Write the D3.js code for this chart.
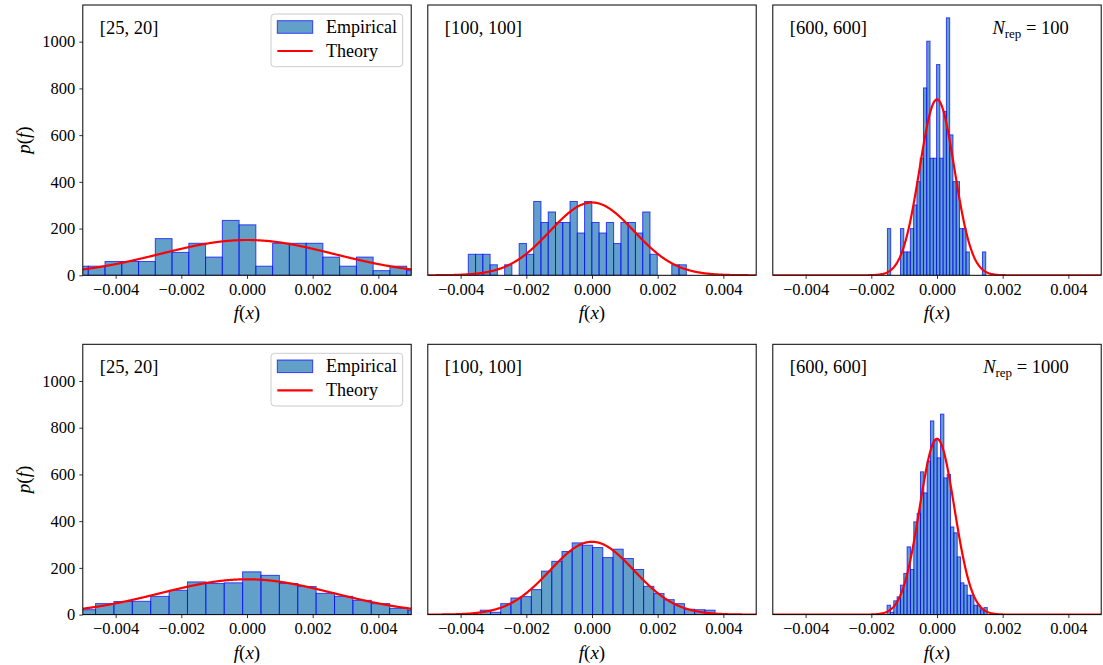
<!DOCTYPE html>
<html>
<head>
<meta charset="utf-8">
<script src="https://cdn.jsdelivr.net/npm/d3@7"></script>
<style>
  html, body { margin: 0; padding: 0; background: #fff; }
  svg { display: block; font-family: "Liberation Serif", "DejaVu Serif", serif; }
</style>
</head>
<body>
<svg id="fig" width="1103" height="665"></svg>
<script>
// ---- data -------------------------------------------------------------
const shapeLabels = ["[25, 20]", "[100, 100]", "[600, 600]"];
const repCounts = [100, 1000];
const xTicks = [-0.004, -0.002, 0.000, 0.002, 0.004];
const yTicks = [0, 200, 400, 600, 800, 1000];
const xDomain = [-0.005, 0.005];
const yDomain = [0, 1157];

// theoretical Gaussian density of f(x) for each network shape (mean, std)
const theoryMean = [0, 0, 0];
const theoryStd = [0.00264, 0.00128, 0.00053];

// histogram bins: first edge and bin width, per row (N_rep) and shape
const binStart = [
  [-5.344e-3, -3.767e-3, -1.510e-3],
  [-5.171e-3, -3.401e-3, -1.520e-3]
];
const binWidth = [
  [0.5103e-3, 0.2213e-3, 0.0998e-3],
  [0.5597e-3, 0.3108e-3, 0.1017e-3]
];

// empirical densities, N_rep = 100
const dens100_s25 = [39, 39, 59, 59, 59, 157, 98, 137, 78, 235, 216, 39, 137, 137, 137, 78, 39, 78, 20, 39, 20];
const dens100_s100 = [90, 90, 90, 45, 0, 45, 0, 136, 90, 316, 226, 271, 226, 226, 316, 181, 316, 226, 181, 226,
                      136, 226, 226, 181, 271, 90, 0, 0, 45, 45];
const dens100_s600 = [200, 0, 0, 0, 200, 100, 100, 200, 301, 401, 501, 802, 1002, 501, 501, 902, 501, 701, 1102, 601,
                      401, 401, 200, 200, 100, 0, 0, 0, 0, 100];

// empirical densities, N_rep = 1000
const dens1000_s25 = [21, 47, 56, 57, 78, 104, 140, 133, 136, 183, 168, 133, 120, 91, 78, 61, 47, 27, 19];
const dens1000_s100 = [19, 10, 47, 71, 77, 107, 186, 228, 270, 307, 297, 287, 244, 280, 240, 193, 121, 90, 64, 47,
                       23, 21, 19];
const dens1000_s600 = [40, 10, 59, 76, 126, 176, 290, 193, 397, 433, 611, 521, 657, 829, 747, 671, 858, 585, 600, 375,
                       350, 247, 136, 126, 83, 83, 40, 40, 20, 30];

const densities = [
  [dens100_s25, dens100_s100, dens100_s600],
  [dens1000_s25, dens1000_s100, dens1000_s600]
];

// ---- layout -----------------------------------------------------------
const axLeft = [82.8, 427.8, 772.8];
const axTop = [5, 344.3];
const axW = 328.4, axH = 270.3;

const histFill = "#1f77b4", histEdge = "#0000ff", histAlpha = 0.7;
const fmtTick = d3.format(".3f");

const svg = d3.select("#fig");
const defs = svg.append("defs");

function gaussian(x, mu, sd) {
  return Math.exp(-0.5 * ((x - mu) / sd) ** 2) / (sd * Math.sqrt(2 * Math.PI));
}

function mathFx(sel) {
  sel.append("tspan").attr("font-style", "italic").text("f");
  sel.append("tspan").text("(");
  sel.append("tspan").attr("font-style", "italic").text("x");
  sel.append("tspan").text(")");
}

repCounts.forEach((nrep, r) => {
  shapeLabels.forEach((label, c) => {
    const x0 = axLeft[c], y0 = axTop[r];
    const x = d3.scaleLinear().domain(xDomain).range([x0, x0 + axW]);
    const y = d3.scaleLinear().domain(yDomain).range([y0 + axH, y0]);

    const clipId = `clip-${r}-${c}`;
    defs.append("clipPath").attr("id", clipId)
      .append("rect").attr("x", x0).attr("y", y0).attr("width", axW).attr("height", axH);

    const g = svg.append("g");
    const plot = g.append("g").attr("clip-path", `url(#${clipId})`);

    // histogram bars
    const start = binStart[r][c], bw = binWidth[r][c];
    const bins = densities[r][c].map((v, i) => ({ lo: start + i * bw, hi: start + (i + 1) * bw, v }));
    plot.selectAll("rect.bar")
      .data(bins.filter(d => d.v > 0))
      .join("rect")
      .attr("class", "bar")
      .attr("x", d => x(d.lo))
      .attr("width", d => x(d.hi) - x(d.lo))
      .attr("y", d => y(d.v))
      .attr("height", d => y(0) - y(d.v))
      .attr("fill", histFill).attr("fill-opacity", histAlpha)
      .attr("stroke", histEdge).attr("stroke-opacity", histAlpha)
      .attr("stroke-width", 1);

    // theory curve
    const xs = d3.range(0, 501).map(i => xDomain[0] + (xDomain[1] - xDomain[0]) * i / 500);
    const line = d3.line().x(d => x(d)).y(d => y(gaussian(d, theoryMean[c], theoryStd[c])));
    plot.append("path").datum(xs)
      .attr("d", line)
      .attr("fill", "none").attr("stroke", "#ff0000").attr("stroke-width", 2.2)
      .attr("stroke-linejoin", "round");

    // x axis
    const xAxis = d3.axisBottom(x).tickValues(xTicks).tickFormat(fmtTick).tickSize(3.5).tickPadding(4);
    const gx = g.append("g").attr("transform", `translate(0,${y0 + axH})`).call(xAxis);
    gx.select(".domain").remove();
    gx.selectAll(".tick line").attr("stroke", "#000").attr("stroke-width", 0.8);
    gx.selectAll(".tick text").attr("font-size", 16.5).attr("fill", "#000")
      .attr("font-family", "Liberation Serif, serif");

    // y axis on the first column only
    if (c === 0) {
      const yAxis = d3.axisLeft(y).tickValues(yTicks).tickFormat(d3.format("d")).tickSize(3.5).tickPadding(4);
      const gy = g.append("g").attr("transform", `translate(${x0},0)`).call(yAxis);
      gy.select(".domain").remove();
      gy.selectAll(".tick line").attr("stroke", "#000").attr("stroke-width", 0.8);
      gy.selectAll(".tick text").attr("font-size", 16.5).attr("fill", "#000")
        .attr("font-family", "Liberation Serif, serif");

      const yl = g.append("text")
        .attr("transform", `translate(${x0 - 60},${y0 + axH / 2}) rotate(-90)`)
        .attr("text-anchor", "middle").attr("dominant-baseline", "central")
        .attr("font-size", 19);
      yl.append("tspan").attr("font-style", "italic").text("p");
      yl.append("tspan").text("(");
      yl.append("tspan").attr("font-style", "italic").text("f");
      yl.append("tspan").text(")");
    }

    // x label
    g.append("text")
      .attr("x", x0 + axW / 2).attr("y", y0 + axH + 44)
      .attr("text-anchor", "middle").attr("font-size", 19)
      .call(mathFx);

    // frame
    g.append("rect")
      .attr("x", x0).attr("y", y0).attr("width", axW).attr("height", axH)
      .attr("fill", "none").attr("stroke", "#000").attr("stroke-width", 1);

    // shape annotation
    g.append("text")
      .attr("x", x0 + 17).attr("y", y0 + 29)
      .attr("font-size", 18.5).text(label);

    // repetition count annotation
    if (c === 2) {
      const t = g.append("text")
        .attr("x", x0 + 296).attr("y", y0 + 29)
        .attr("text-anchor", "end").attr("font-size", 18.5);
      t.append("tspan").attr("font-style", "italic").text("N");
      t.append("tspan").attr("font-size", 13).attr("dy", 4).text("rep");
      t.append("tspan").attr("dy", -4).text(" = " + nrep);
    }

    // legend in the first column
    if (c === 0) {
      const lx = x0 + axW - 8.5 - 131.7, ly = y0 + 9;
      const lg = g.append("g");
      lg.append("rect")
        .attr("x", lx).attr("y", ly).attr("width", 131.7).attr("height", 52.7)
        .attr("rx", 3.5).attr("fill", "#fff").attr("fill-opacity", 0.8)
        .attr("stroke", "#cccccc").attr("stroke-width", 1);
      lg.append("rect")
        .attr("x", lx + 6.3).attr("y", ly + 6.7).attr("width", 35.4).attr("height", 12.6)
        .attr("fill", histFill).attr("fill-opacity", histAlpha)
        .attr("stroke", histEdge).attr("stroke-opacity", histAlpha).attr("stroke-width", 1);
      lg.append("text").attr("x", lx + 55).attr("y", ly + 19).attr("font-size", 18).text("Empirical");
      lg.append("line")
        .attr("x1", lx + 6.3).attr("x2", lx + 41.7).attr("y1", ly + 37).attr("y2", ly + 37)
        .attr("stroke", "#ff0000").attr("stroke-width", 2.2);
      lg.append("text").attr("x", lx + 55).attr("y", ly + 43).attr("font-size", 18).text("Theory");
    }
  });
});
</script>
</body>
</html>
